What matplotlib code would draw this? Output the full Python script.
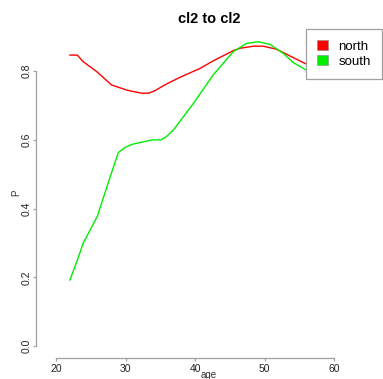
import matplotlib
matplotlib.use("Agg")
import matplotlib.pyplot as plt
from matplotlib.patches import Patch

plt.rcParams['font.family'] = ['Liberation Sans', 'DejaVu Sans']

title = "cl2 to cl2"
series_names = ["north", "south"]
series_colors = ["#ff0000", "#00ee00"]

north_age = [22.0, 23.07, 23.9, 25.85, 28.0, 30.2, 32.3, 33.3, 34.2, 35.9, 37.8,
             40.7, 42.6, 45.5, 46.5, 48.4, 49.8, 51.75, 53.7, 56.3, 58.0]
north_p = [0.847, 0.847, 0.828, 0.799, 0.760, 0.745, 0.736, 0.736, 0.743, 0.763, 0.782,
           0.808, 0.830, 0.860, 0.867, 0.873, 0.873, 0.864, 0.844, 0.818, 0.808]

south_age = [22.0, 23.07, 23.9, 25.95, 27.8, 28.96, 29.9, 31.1, 33.8, 35.1, 35.9, 36.9,
             39.75, 42.6, 45.5, 47.4, 49.1, 50.8, 52.7, 54.15, 56.3, 58.0]
south_p = [0.192, 0.250, 0.299, 0.378, 0.493, 0.563, 0.578, 0.588, 0.600, 0.600, 0.610, 0.629,
           0.706, 0.789, 0.857, 0.881, 0.886, 0.878, 0.852, 0.825, 0.800, 0.792]

x_ticks = [20, 30, 40, 50, 60]
y_ticks = [0.0, 0.2, 0.4, 0.6, 0.8]

W, H = 383, 379
fig = plt.figure(figsize=(W / 100, H / 100), dpi=100)
L, R, T, B = 36, 382, 29, 358
ax = fig.add_axes([L / W, 1 - B / H, (R - L) / W, (B - T) / H])

ax.plot(north_age, north_p, color=series_colors[0], lw=1.0, zorder=2)
ax.plot(south_age, south_p, color=series_colors[1], lw=1.0, zorder=2)

ax.set_xlim(17.12, 66.9)
ax.set_ylim(-0.035, 0.923)

for s in ['top', 'right']:
    ax.spines[s].set_visible(False)
ax.spines['left'].set_bounds(0.0, 0.8)
ax.spines['bottom'].set_bounds(20, 60)
for s in ['left', 'bottom']:
    ax.spines[s].set_color('#a0a0a0')
    ax.spines[s].set_linewidth(0.9)

ax.set_xticks(x_ticks)
ax.set_xticklabels([str(v) for v in x_ticks])
ax.set_yticks(y_ticks)
ax.set_yticklabels([f"{v:.1f}" for v in y_ticks], rotation=90, va='center')
ax.tick_params(axis='both', length=2.5, width=0.9, color='#a0a0a0',
               labelcolor='#222222', labelsize=7.5)
ax.tick_params(axis='x', pad=2)
ax.tick_params(axis='y', pad=0.5)

fig.text((L + R) / 2 / W, 1 - 19 / H, title, ha='center', va='center',
         fontsize=10.5, fontweight='bold')
fig.text((L + R) / 2 / W, 1 - 374.5 / H, "age", ha='center', va='center',
         fontsize=7, color='#333333')
fig.text(16 / W, 1 - 193 / H, "P", ha='center', va='center', rotation=90,
         fontsize=7, color='#333333')

handles = [Patch(facecolor=c, edgecolor='#888888', linewidth=0.4) for c in series_colors]
leg = ax.legend(handles, series_names, loc='upper right',
                bbox_to_anchor=(R / W, 1 - T / H), bbox_transform=fig.transFigure,
                fancybox=False, framealpha=1, edgecolor='#a0a0a0',
                fontsize=9.5, handlelength=0.8, handleheight=0.75,
                handletextpad=0.8, borderpad=0.85, labelspacing=0.2,
                borderaxespad=0)
leg.get_frame().set_linewidth(0.9)
leg.set_zorder(5)

fig.savefig("out.png", dpi=100)
